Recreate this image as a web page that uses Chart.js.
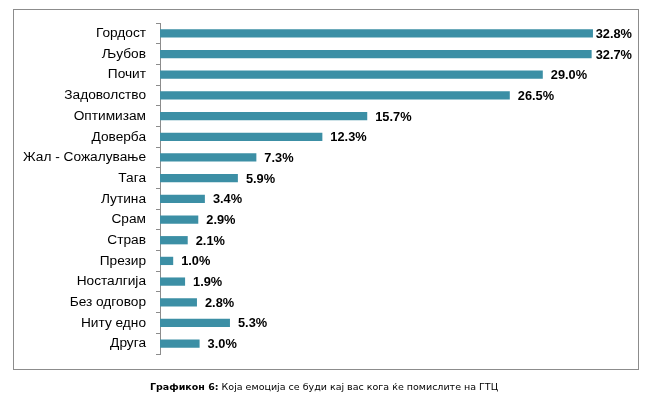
<!DOCTYPE html>
<html>
<head>
<meta charset="utf-8">
<script src="https://cdn.jsdelivr.net/npm/chart.js@4"></script>
<style>
  html, body { margin: 0; padding: 0; background: #fff; }
  body { width: 648px; height: 411px; position: relative; overflow: hidden; }
  #frame {
    position: absolute; left: 13px; top: 9px; width: 624px; height: 359px;
    border: 1px solid #8c8c8c;
  }
  #wrap { position: absolute; left: 0; top: 0; width: 648px; height: 411px; }
  #caption {
    position: absolute; left: 0; width: 648px; top: 381px; text-align: center;
    font-family: "DejaVu Sans", sans-serif; font-size: 9.5px; color: #000;
  }
</style>
</head>
<body>
<div id="frame"></div>
<div id="wrap"><canvas id="chart" width="648" height="411"></canvas></div>
<div id="caption"><b>Графикон 6:</b> Која емоција се буди кај вас кога ќе помислите на ГТЦ</div>
<script>
const emotions = [
  "Гордост", "Љубов", "Почит", "Задоволство", "Оптимизам", "Доверба",
  "Жал - Сожалување", "Тага", "Лутина", "Срам", "Страв", "Презир",
  "Носталгија", "Без одговор", "Ниту едно", "Друга"
];
const shares = [32.8, 32.7, 29.0, 26.5, 15.7, 12.3, 7.3, 5.9, 3.4, 2.9, 2.1, 1.0, 1.9, 2.8, 5.3, 3.0];

const barColor = "#3c8fa5";

// value labels at the end of each bar
const valueLabels = {
  id: "valueLabels",
  afterDatasetsDraw(chart) {
    const ctx = chart.ctx;
    const meta = chart.getDatasetMeta(0);
    ctx.save();
    ctx.font = "bold 12.8px 'Liberation Sans', Arial, sans-serif";
    ctx.fillStyle = "#000";
    ctx.textBaseline = "middle";
    meta.data.forEach((bar, i) => {
      const txt = shares[i].toFixed(1) + "%";
      const w = ctx.measureText(txt).width;
      let x = bar.x + 8;
      if (x + w > 632) x = 632 - w;
      ctx.fillText(txt, x, bar.y + 1);
    });
    ctx.restore();
  }
};

new Chart(document.getElementById("chart"), {
  type: "bar",
  data: {
    labels: emotions,
    datasets: [{
      data: shares,
      backgroundColor: barColor,
      borderWidth: 0,
      categoryPercentage: 1,
      barPercentage: 0.4
    }]
  },
  options: {
    indexAxis: "y",
    responsive: false,
    animation: false,
    layout: { padding: { top: 23, bottom: 57, right: 26, left: 0 } },
    plugins: { legend: { display: false }, tooltip: { enabled: false } },
    scales: {
      x: { display: false, min: 0, max: 35 },
      y: {
        afterFit(scale) { scale.width = 160; },
        border: { color: "#8c8c8c", width: 1 },
        grid: { drawOnChartArea: false, drawTicks: true, tickLength: 4, color: "#8c8c8c", offset: true },
        ticks: {
          color: "#000", padding: 10, autoSkip: false,
          font: { family: "'Liberation Sans', Arial, sans-serif", size: 13.7 }
        }
      }
    }
  },
  plugins: [valueLabels]
});
</script>
</body>
</html>
